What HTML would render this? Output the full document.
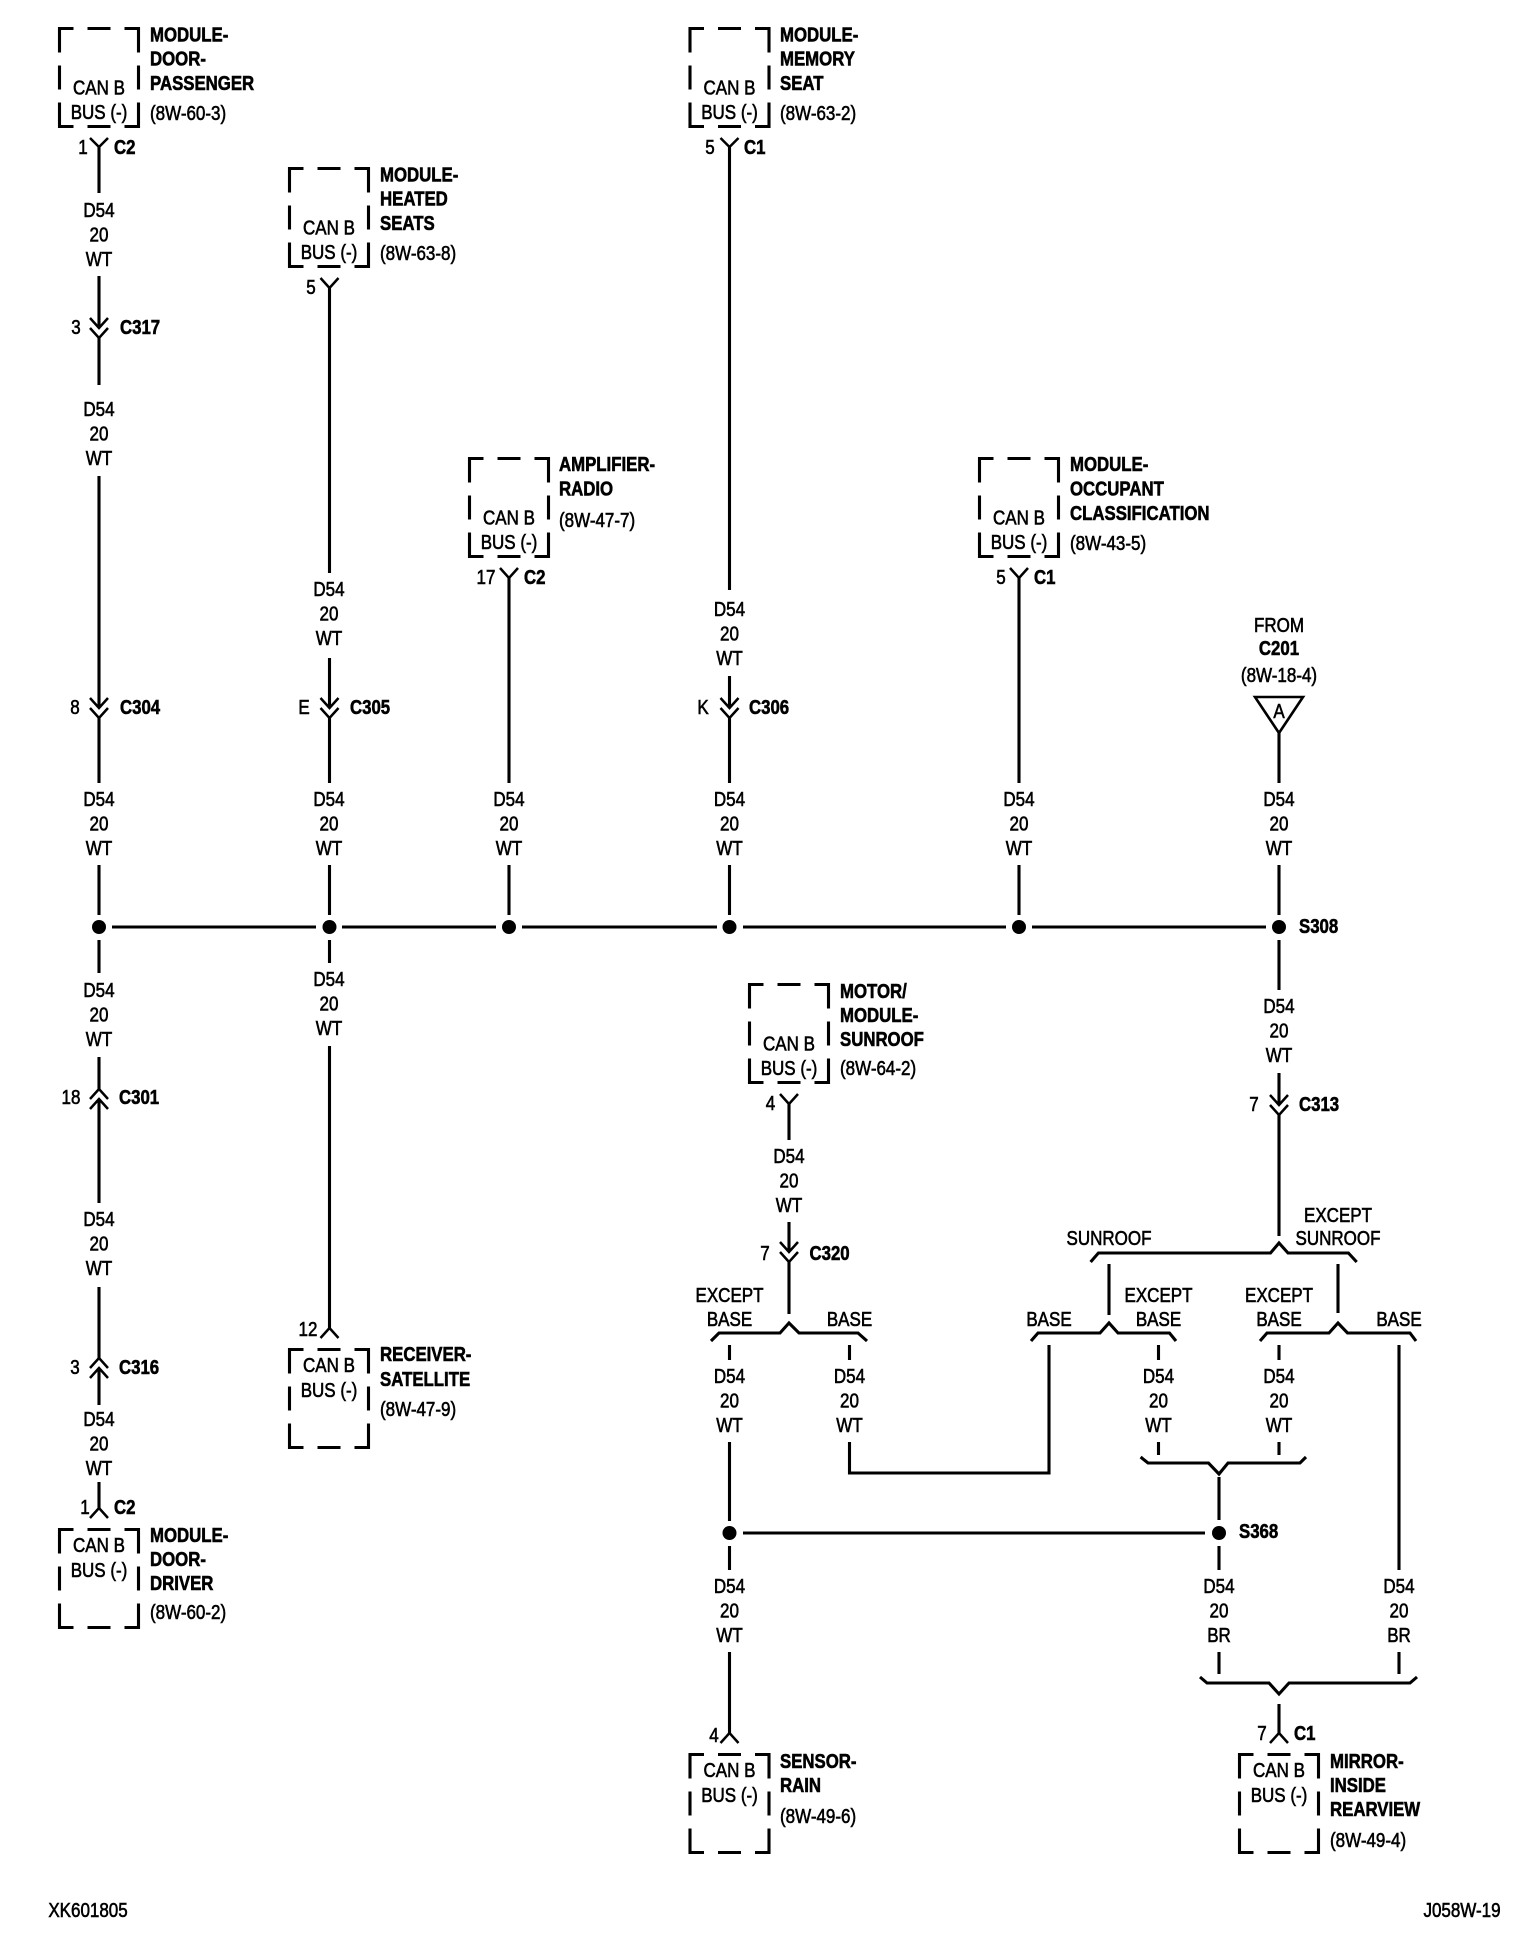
<!DOCTYPE html>
<html><head><meta charset="utf-8"><title>Wiring diagram</title>
<style>
html,body{margin:0;padding:0;background:#fff}
svg{display:block}
text{font-family:"Liberation Sans",sans-serif;font-size:20px;fill:#000;stroke:#000;stroke-width:.6}
.b{font-weight:bold;stroke-width:.6}
.m{text-anchor:middle}
.l{fill:none;stroke:#000;stroke-width:3.1}
.c{fill:none;stroke:#000;stroke-width:2.5}
.t{fill:none;stroke:#000;stroke-width:2.6}
</style></head><body>
<svg width="1536" height="1944" viewBox="0 0 1536 1944" xmlns="http://www.w3.org/2000/svg">
<defs><path id="box" class="l" d="M14,0H0V24M0,37V61M0,74V98H14M28,98H51M65,98H79V74M79,61V37M79,24V0H65M51,0H28"/></defs>
<rect width="1536" height="1944" fill="#fff"/>
<use href="#box" x="59.5" y="28.5"/><use href="#box" x="289.5" y="168.5"/><use href="#box" x="690" y="28.5"/>
<use href="#box" x="469.5" y="458.5"/><use href="#box" x="979.5" y="458.5"/><use href="#box" x="749.5" y="984.5"/>
<use href="#box" x="289.5" y="1349.5"/><use href="#box" x="59.5" y="1529.5"/><use href="#box" x="690" y="1754.5"/><use href="#box" x="1239.5" y="1754.5"/>

<!-- wires -->
<path class="l" d="M99,147V193M99,276V328M99,337V385M99,476V708M99,717V783M99,865V915M99,940V973M99,1057V1090M99,1099V1203M99,1287V1359M99,1368V1405M99,1482V1508"/>
<path class="l" d="M329.5,288V573M329.5,658V708M329.5,717V783M329.5,865V915M329.5,940V963M329.5,1046V1328"/>
<path class="l" d="M509,578V783M509,865V915"/>
<path class="l" d="M729.5,147V590M729.5,676V708M729.5,717V783M729.5,865V915"/>
<path class="l" d="M1019,578V783M1019,865V915"/>
<path class="l" d="M1279,733V783M1279,865V915M1279,940V990M1279,1073V1105M1279,1113V1236"/>
<path class="l" d="M789,1104V1140M789,1222V1252M789,1261V1314"/>
<!-- Y pins and chevrons -->
<path class="c" d="M90,138L99,147L108,138M320.5,278L329.5,288L338.5,278M500,568L509,578L518,568M720.5,138L729.5,147L738.5,138M1010,568L1019,578L1028,568M780,1094L789,1104L798,1094"/>
<path class="c" d="M90,1518L99,1508L108,1518M320.5,1338L329.5,1328L338.5,1338M720.5,1743L729.5,1733L738.5,1743M1270,1743L1279,1733L1288,1743"/>
<path class="c" d="M90,318L99,328L108,318M90,328L99,338L108,328M90,698L99,708L108,698M90,708L99,718L108,708M320.5,698L329.5,708L338.5,698M320.5,708L329.5,718L338.5,708M720.5,698L729.5,708L738.5,698M720.5,708L729.5,718L738.5,708M1270,1095L1279,1105L1288,1095M1270,1105L1279,1115L1288,1105M780,1242L789,1252L798,1242M780,1252L789,1262L798,1252"/>
<path class="c" d="M90,1099L99,1089L108,1099M90,1109L99,1099L108,1109M90,1368L99,1358L108,1368M90,1378L99,1368L108,1378"/>
<path class="t" d="M1255,697H1303L1279,733Z"/>
<!-- bus -->
<path class="l" d="M112,927H316M342,927H496M522,927H717M743,927H1006M1032,927H1266"/>
<g><circle cx="99" cy="927" r="7"/><circle cx="329.5" cy="927" r="7"/><circle cx="509" cy="927" r="7"/><circle cx="729.5" cy="927" r="7"/><circle cx="1019" cy="927" r="7"/><circle cx="1279" cy="927" r="7"/><circle cx="729.5" cy="1533" r="7"/><circle cx="1219" cy="1533" r="7"/></g>
<!-- brackets -->
<path class="l" d="M711,1341L719,1333H780L789,1323L799,1333H858L867,1341"/>
<path class="l" d="M1090.6,1262L1098.4,1253H1270.5L1279,1243L1288,1253H1348.4L1356.7,1262"/>
<path class="l" d="M1031,1341L1038,1333H1100L1109,1323L1118,1333H1169.5L1176,1341"/>
<path class="l" d="M1260,1341L1267,1333H1329L1338,1323L1347.5,1333H1410L1416,1341"/>
<path class="l" d="M1140.6,1457L1148,1463H1208.5L1219,1474L1228,1463H1300L1306,1457"/>
<path class="l" d="M1200,1677L1207,1683H1269L1279,1694L1289,1683H1410L1417,1677"/>
<!-- branch wires -->
<path class="l" d="M1109,1264V1315M1338,1264V1313M729.5,1345V1360M729.5,1442V1521M849.5,1345V1360M849.5,1442V1473H1049V1345M1158.5,1345V1360M1158.5,1442V1455M1279,1345V1360M1279,1442V1455M1399,1345V1570M1219,1477V1520M743,1533H1205M1219,1546V1570M729.5,1546V1570M729.5,1652V1733M1219,1652V1674M1399,1652V1674M1279,1704V1733"/>

<g transform="translate(0 -.8)">
<!-- box inner text -->
<text class="m" transform="translate(99 95.5) scale(.85 1)">CAN B</text><text class="m" transform="translate(99 120) scale(.85 1)">BUS (-)</text>
<text class="m" transform="translate(329 235.5) scale(.85 1)">CAN B</text><text class="m" transform="translate(329 260) scale(.85 1)">BUS (-)</text>
<text class="m" transform="translate(729.5 95.5) scale(.85 1)">CAN B</text><text class="m" transform="translate(729.5 120) scale(.85 1)">BUS (-)</text>
<text class="m" transform="translate(509 525.5) scale(.85 1)">CAN B</text><text class="m" transform="translate(509 550) scale(.85 1)">BUS (-)</text>
<text class="m" transform="translate(1019 525.5) scale(.85 1)">CAN B</text><text class="m" transform="translate(1019 550) scale(.85 1)">BUS (-)</text>
<text class="m" transform="translate(789 1051.5) scale(.85 1)">CAN B</text><text class="m" transform="translate(789 1076) scale(.85 1)">BUS (-)</text>
<text class="m" transform="translate(329 1373) scale(.85 1)">CAN B</text><text class="m" transform="translate(329 1398) scale(.85 1)">BUS (-)</text>
<text class="m" transform="translate(99 1553) scale(.85 1)">CAN B</text><text class="m" transform="translate(99 1578) scale(.85 1)">BUS (-)</text>
<text class="m" transform="translate(729.5 1778) scale(.85 1)">CAN B</text><text class="m" transform="translate(729.5 1803) scale(.85 1)">BUS (-)</text>
<text class="m" transform="translate(1279 1778) scale(.85 1)">CAN B</text><text class="m" transform="translate(1279 1803) scale(.85 1)">BUS (-)</text>

<!-- box side labels -->
<text class="b" transform="translate(150 42.5) scale(.84 1)">MODULE-</text><text class="b" transform="translate(150 66.5) scale(.84 1)">DOOR-</text><text class="b" transform="translate(150 91) scale(.84 1)">PASSENGER</text><text transform="translate(150 121) scale(.85 1)">(8W-60-3)</text>
<text class="b" transform="translate(380 182.5) scale(.84 1)">MODULE-</text><text class="b" transform="translate(380 206.5) scale(.84 1)">HEATED</text><text class="b" transform="translate(380 231) scale(.84 1)">SEATS</text><text transform="translate(380 261) scale(.85 1)">(8W-63-8)</text>
<text class="b" transform="translate(780 42.5) scale(.84 1)">MODULE-</text><text class="b" transform="translate(780 66.5) scale(.84 1)">MEMORY</text><text class="b" transform="translate(780 91) scale(.84 1)">SEAT</text><text transform="translate(780 121) scale(.85 1)">(8W-63-2)</text>
<text class="b" transform="translate(559 472) scale(.84 1)">AMPLIFIER-</text><text class="b" transform="translate(559 496.5) scale(.84 1)">RADIO</text><text transform="translate(559 528) scale(.85 1)">(8W-47-7)</text>
<text class="b" transform="translate(1070 472) scale(.84 1)">MODULE-</text><text class="b" transform="translate(1070 496.5) scale(.84 1)">OCCUPANT</text><text class="b" transform="translate(1070 521) scale(.84 1)">CLASSIFICATION</text><text transform="translate(1070 551) scale(.85 1)">(8W-43-5)</text>
<text class="b" transform="translate(840 999) scale(.84 1)">MOTOR/</text><text class="b" transform="translate(840 1023) scale(.84 1)">MODULE-</text><text class="b" transform="translate(840 1047) scale(.84 1)">SUNROOF</text><text transform="translate(840 1076) scale(.85 1)">(8W-64-2)</text>
<text class="b" transform="translate(380 1362) scale(.84 1)">RECEIVER-</text><text class="b" transform="translate(380 1387) scale(.84 1)">SATELLITE</text><text transform="translate(380 1417) scale(.85 1)">(8W-47-9)</text>
<text class="b" transform="translate(150 1543) scale(.84 1)">MODULE-</text><text class="b" transform="translate(150 1567) scale(.84 1)">DOOR-</text><text class="b" transform="translate(150 1591) scale(.84 1)">DRIVER</text><text transform="translate(150 1620) scale(.85 1)">(8W-60-2)</text>
<text class="b" transform="translate(780 1769) scale(.84 1)">SENSOR-</text><text class="b" transform="translate(780 1793) scale(.84 1)">RAIN</text><text transform="translate(780 1824) scale(.85 1)">(8W-49-6)</text>
<text class="b" transform="translate(1330 1769) scale(.84 1)">MIRROR-</text><text class="b" transform="translate(1330 1793) scale(.84 1)">INSIDE</text><text class="b" transform="translate(1330 1817) scale(.84 1)">REARVIEW</text><text transform="translate(1330 1848) scale(.85 1)">(8W-49-4)</text>

<!-- wire labels -->
<text class="m" transform="translate(99 218) scale(.85 1)"><tspan x="0">D54</tspan><tspan x="0" dy="24.4">20</tspan><tspan x="0" dy="24.4">WT</tspan></text>
<text class="m" transform="translate(99 417) scale(.85 1)"><tspan x="0">D54</tspan><tspan x="0" dy="24.4">20</tspan><tspan x="0" dy="24.4">WT</tspan></text>
<text class="m" transform="translate(99 807) scale(.85 1)"><tspan x="0">D54</tspan><tspan x="0" dy="24.4">20</tspan><tspan x="0" dy="24.4">WT</tspan></text>
<text class="m" transform="translate(99 998) scale(.85 1)"><tspan x="0">D54</tspan><tspan x="0" dy="24.4">20</tspan><tspan x="0" dy="24.4">WT</tspan></text>
<text class="m" transform="translate(99 1227) scale(.85 1)"><tspan x="0">D54</tspan><tspan x="0" dy="24.4">20</tspan><tspan x="0" dy="24.4">WT</tspan></text>
<text class="m" transform="translate(99 1427) scale(.85 1)"><tspan x="0">D54</tspan><tspan x="0" dy="24.4">20</tspan><tspan x="0" dy="24.4">WT</tspan></text>
<text class="m" transform="translate(329 597) scale(.85 1)"><tspan x="0">D54</tspan><tspan x="0" dy="24.4">20</tspan><tspan x="0" dy="24.4">WT</tspan></text>
<text class="m" transform="translate(329 807) scale(.85 1)"><tspan x="0">D54</tspan><tspan x="0" dy="24.4">20</tspan><tspan x="0" dy="24.4">WT</tspan></text>
<text class="m" transform="translate(329 987) scale(.85 1)"><tspan x="0">D54</tspan><tspan x="0" dy="24.4">20</tspan><tspan x="0" dy="24.4">WT</tspan></text>
<text class="m" transform="translate(509 807) scale(.85 1)"><tspan x="0">D54</tspan><tspan x="0" dy="24.4">20</tspan><tspan x="0" dy="24.4">WT</tspan></text>
<text class="m" transform="translate(729.5 617) scale(.85 1)"><tspan x="0">D54</tspan><tspan x="0" dy="24.4">20</tspan><tspan x="0" dy="24.4">WT</tspan></text>
<text class="m" transform="translate(729.5 807) scale(.85 1)"><tspan x="0">D54</tspan><tspan x="0" dy="24.4">20</tspan><tspan x="0" dy="24.4">WT</tspan></text>
<text class="m" transform="translate(729.5 1384) scale(.85 1)"><tspan x="0">D54</tspan><tspan x="0" dy="24.4">20</tspan><tspan x="0" dy="24.4">WT</tspan></text>
<text class="m" transform="translate(729.5 1594) scale(.85 1)"><tspan x="0">D54</tspan><tspan x="0" dy="24.4">20</tspan><tspan x="0" dy="24.4">WT</tspan></text>
<text class="m" transform="translate(1019 807) scale(.85 1)"><tspan x="0">D54</tspan><tspan x="0" dy="24.4">20</tspan><tspan x="0" dy="24.4">WT</tspan></text>
<text class="m" transform="translate(1279 807) scale(.85 1)"><tspan x="0">D54</tspan><tspan x="0" dy="24.4">20</tspan><tspan x="0" dy="24.4">WT</tspan></text>
<text class="m" transform="translate(1279 1014) scale(.85 1)"><tspan x="0">D54</tspan><tspan x="0" dy="24.4">20</tspan><tspan x="0" dy="24.4">WT</tspan></text>
<text class="m" transform="translate(1279 1384) scale(.85 1)"><tspan x="0">D54</tspan><tspan x="0" dy="24.4">20</tspan><tspan x="0" dy="24.4">WT</tspan></text>
<text class="m" transform="translate(789 1164) scale(.85 1)"><tspan x="0">D54</tspan><tspan x="0" dy="24.4">20</tspan><tspan x="0" dy="24.4">WT</tspan></text>
<text class="m" transform="translate(849.5 1384) scale(.85 1)"><tspan x="0">D54</tspan><tspan x="0" dy="24.4">20</tspan><tspan x="0" dy="24.4">WT</tspan></text>
<text class="m" transform="translate(1158.5 1384) scale(.85 1)"><tspan x="0">D54</tspan><tspan x="0" dy="24.4">20</tspan><tspan x="0" dy="24.4">WT</tspan></text>
<text class="m" transform="translate(1219 1594) scale(.85 1)"><tspan x="0">D54</tspan><tspan x="0" dy="24.4">20</tspan><tspan x="0" dy="24.4">BR</tspan></text>
<text class="m" transform="translate(1399 1594) scale(.85 1)"><tspan x="0">D54</tspan><tspan x="0" dy="24.4">20</tspan><tspan x="0" dy="24.4">BR</tspan></text>

<!-- pin numbers -->
<text class="m" transform="translate(83 155) scale(.85 1)">1</text>
<text class="m" transform="translate(76 335) scale(.85 1)">3</text>
<text class="m" transform="translate(75 715) scale(.85 1)">8</text>
<text class="m" transform="translate(71 1105) scale(.85 1)">18</text>
<text class="m" transform="translate(75 1375) scale(.85 1)">3</text>
<text class="m" transform="translate(85 1515) scale(.85 1)">1</text>
<text class="m" transform="translate(311 295) scale(.85 1)">5</text>
<text class="m" transform="translate(304 715) scale(.85 1)">E</text>
<text class="m" transform="translate(308 1337) scale(.85 1)">12</text>
<text class="m" transform="translate(486 585) scale(.85 1)">17</text>
<text class="m" transform="translate(710 155) scale(.85 1)">5</text>
<text class="m" transform="translate(703 715) scale(.85 1)">K</text>
<text class="m" transform="translate(714 1743) scale(.85 1)">4</text>
<text class="m" transform="translate(1001 585) scale(.85 1)">5</text>
<text class="m" transform="translate(770.5 1111) scale(.85 1)">4</text>
<text class="m" transform="translate(765 1261) scale(.85 1)">7</text>
<text class="m" transform="translate(1254 1112) scale(.85 1)">7</text>
<text class="m" transform="translate(1262 1741) scale(.85 1)">7</text>

<!-- connector names -->
<text class="b" transform="translate(114 155) scale(.84 1)">C2</text>
<text class="b" transform="translate(120 335) scale(.84 1)">C317</text>
<text class="b" transform="translate(120 715) scale(.84 1)">C304</text>
<text class="b" transform="translate(119 1105) scale(.84 1)">C301</text>
<text class="b" transform="translate(119 1375) scale(.84 1)">C316</text>
<text class="b" transform="translate(114 1515) scale(.84 1)">C2</text>
<text class="b" transform="translate(350 715) scale(.84 1)">C305</text>
<text class="b" transform="translate(524 585) scale(.84 1)">C2</text>
<text class="b" transform="translate(744 155) scale(.84 1)">C1</text>
<text class="b" transform="translate(749 715) scale(.84 1)">C306</text>
<text class="b" transform="translate(1034 585) scale(.84 1)">C1</text>
<text class="b" transform="translate(1299 1112) scale(.84 1)">C313</text>
<text class="b" transform="translate(809.5 1261) scale(.84 1)">C320</text>
<text class="b" transform="translate(1294 1741) scale(.84 1)">C1</text>
<text class="b" transform="translate(1299 934) scale(.84 1)">S308</text>
<text class="b" transform="translate(1239 1539) scale(.84 1)">S368</text>

<!-- from -->
<text class="m" transform="translate(1279 633) scale(.85 1)">FROM</text>
<text class="b m" transform="translate(1279 656) scale(.84 1)">C201</text>
<text class="m" transform="translate(1279 683) scale(.85 1)">(8W-18-4)</text>
<text class="m" transform="translate(1279 719) scale(.85 1)">A</text>

<!-- branch labels -->
<text class="m" transform="translate(1109 1246) scale(.85 1)">SUNROOF</text>
<text class="m" transform="translate(1338 1223) scale(.85 1)">EXCEPT</text>
<text class="m" transform="translate(1338 1246) scale(.85 1)">SUNROOF</text>
<text class="m" transform="translate(729.5 1303) scale(.85 1)">EXCEPT</text>
<text class="m" transform="translate(729.5 1327) scale(.85 1)">BASE</text>
<text class="m" transform="translate(849.5 1327) scale(.85 1)">BASE</text>
<text class="m" transform="translate(1049 1327) scale(.85 1)">BASE</text>
<text class="m" transform="translate(1158.5 1303) scale(.85 1)">EXCEPT</text>
<text class="m" transform="translate(1158.5 1327) scale(.85 1)">BASE</text>
<text class="m" transform="translate(1279 1303) scale(.85 1)">EXCEPT</text>
<text class="m" transform="translate(1279 1327) scale(.85 1)">BASE</text>
<text class="m" transform="translate(1399 1327) scale(.85 1)">BASE</text>

<!-- footer -->
<text class="m" transform="translate(88 1917.8) scale(.85 1)">XK601805</text>
<text class="m" transform="translate(1462 1917.8) scale(.85 1)">J058W-19</text>
</g>
</svg>
</body></html>
